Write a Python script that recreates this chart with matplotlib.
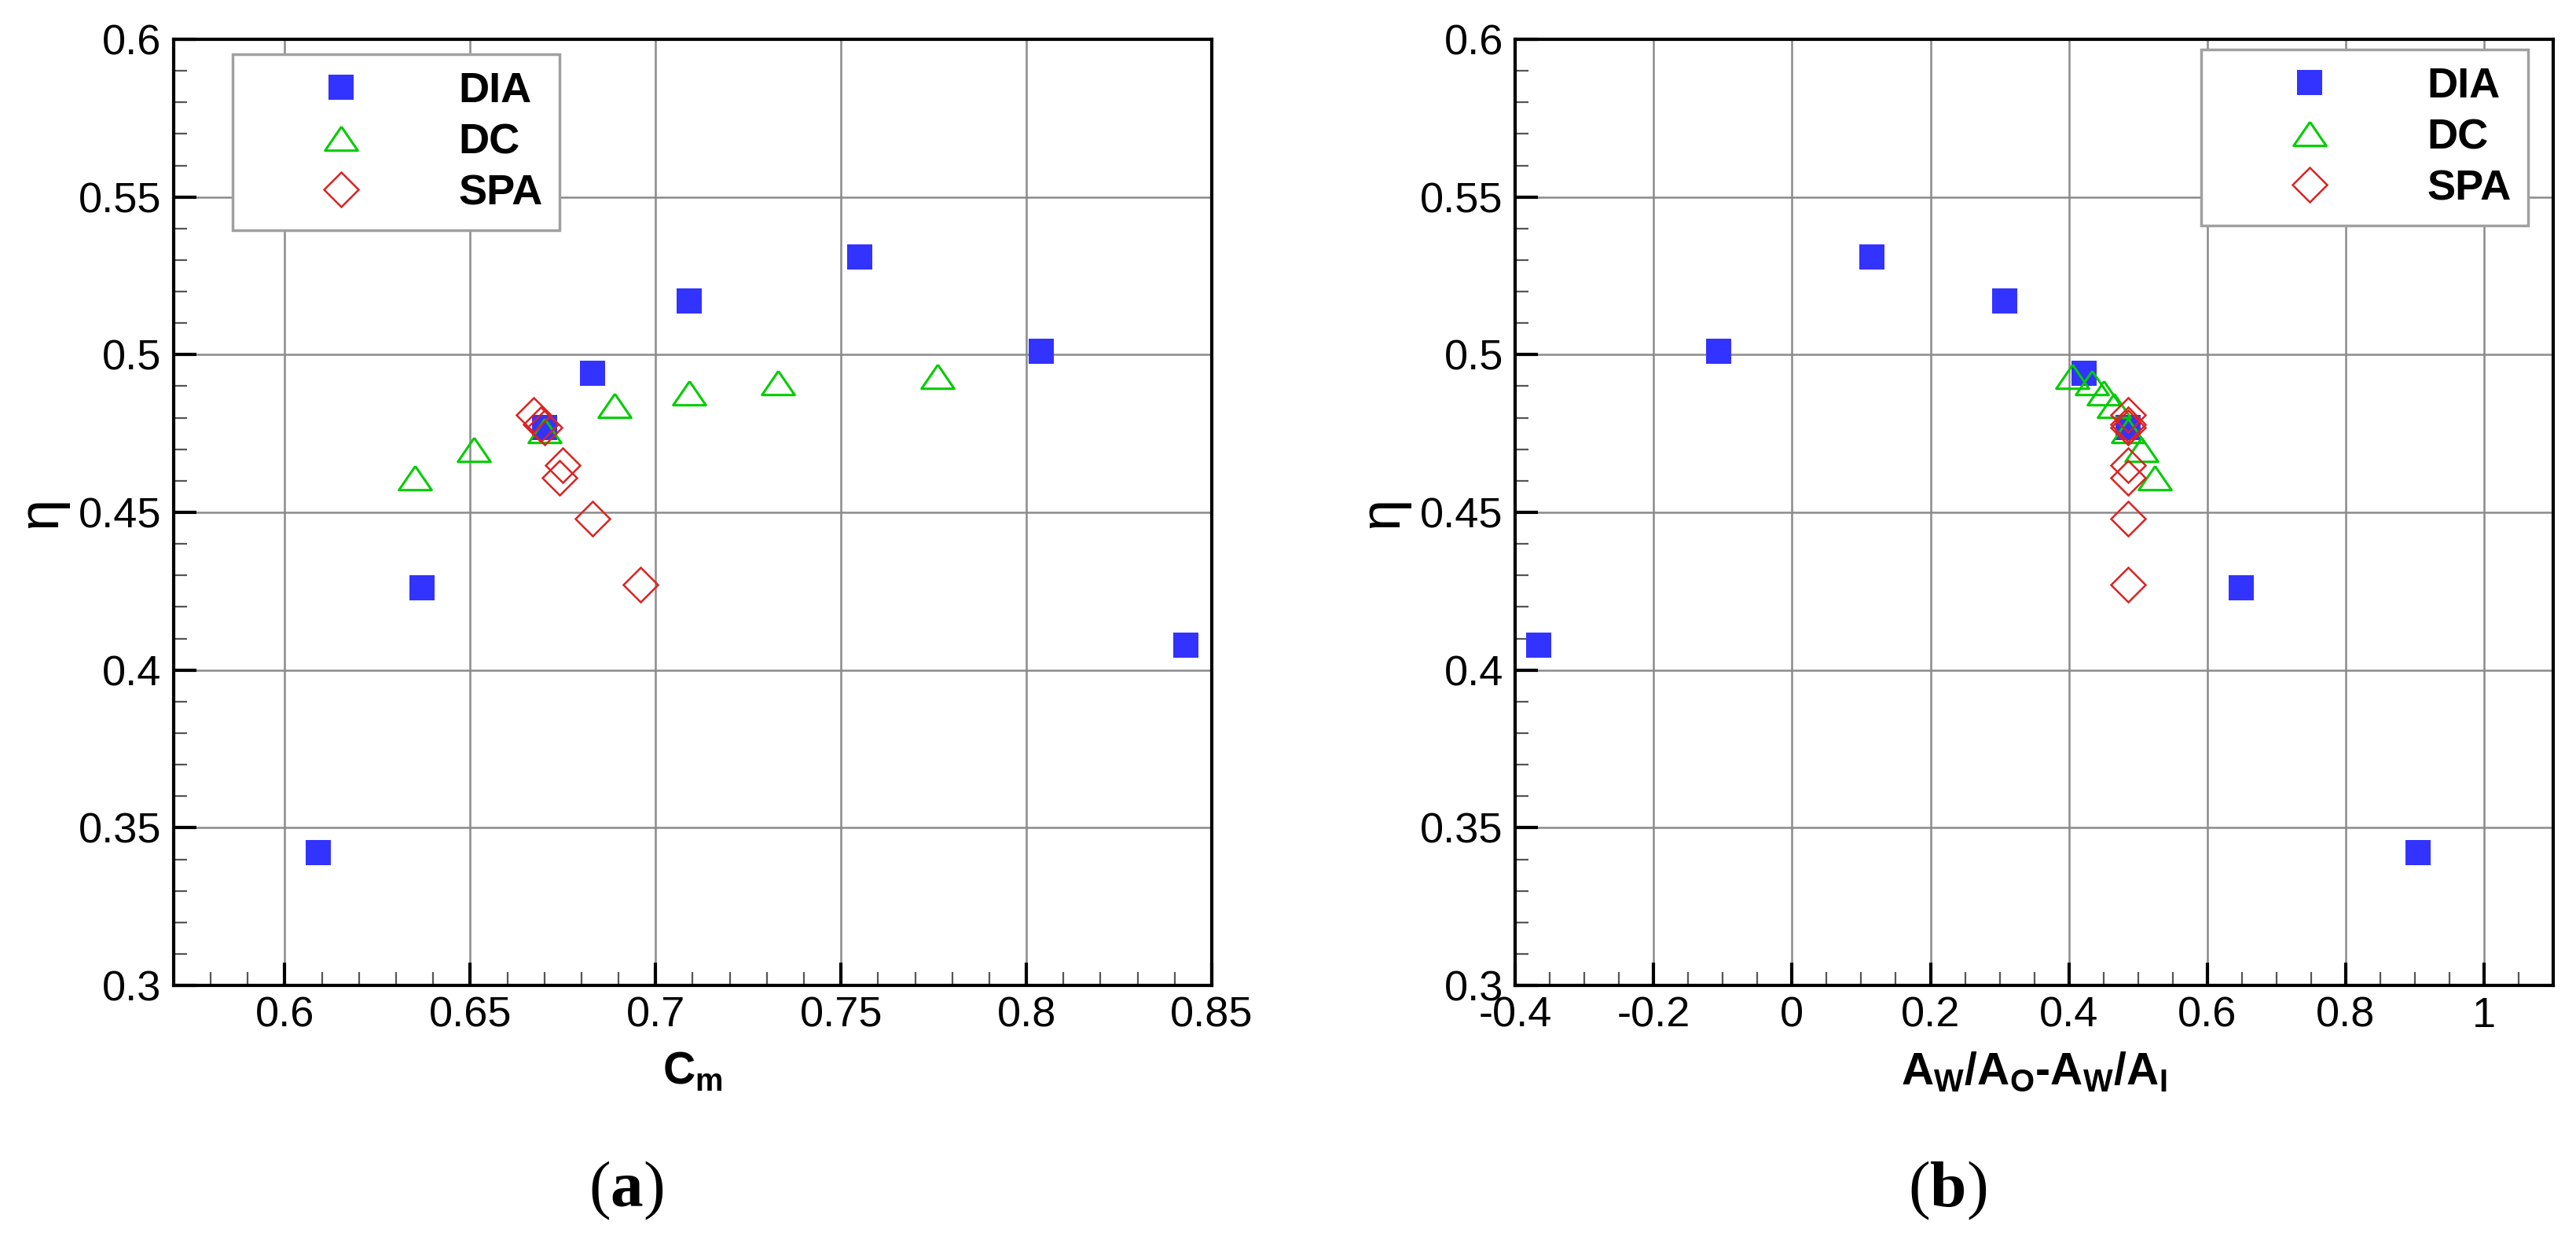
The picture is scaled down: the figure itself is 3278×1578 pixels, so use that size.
"""
plot.py
=======
Efficiency eta against C_m (a) and A_W/A_O - A_W/A_I (b) for the three
design families DIA / DC / SPA.  Writes out.png.
"""

import numpy as np
import matplotlib
matplotlib.use("Agg")             # headless
import matplotlib.pyplot as plt
from matplotlib.ticker import MultipleLocator, FuncFormatter

plt.rcParams["font.family"] = ["Liberation Sans", "DejaVu Sans"]
plt.rcParams["mathtext.fontset"] = "custom"
plt.rcParams["mathtext.sf"] = "Liberation Sans:bold"
plt.rcParams["mathtext.rm"] = "Liberation Sans"
plt.rcParams["mathtext.bf"] = "Liberation Serif:bold"


# ---------------------------------------------------------------------
# data
# ---------------------------------------------------------------------
cm_dia   = [0.609, 0.637, 0.683, 0.670, 0.709, 0.755, 0.804, 0.843]
area_dia = [0.905, 0.649, 0.422, 0.486, 0.307, 0.115, -0.106, -0.366]
eta_dia  = [0.342, 0.426, 0.494, 0.477, 0.517, 0.531, 0.501, 0.408]

cm_dc    = [0.635, 0.651, 0.670, 0.689, 0.709, 0.733, 0.776]
area_dc  = [0.524, 0.505, 0.486, 0.465, 0.450, 0.433, 0.405]
eta_dc   = [0.461, 0.470, 0.476, 0.484, 0.488, 0.491, 0.493]

cm_spa   = [0.667, 0.669, 0.670, 0.675, 0.674, 0.683, 0.696]
area_spa = [0.485, 0.486, 0.486, 0.485, 0.485, 0.486, 0.485]
eta_spa  = [0.481, 0.478, 0.477, 0.465, 0.461, 0.448, 0.427]

series_names = ["DIA", "DC", "SPA"]

BLUE  = "#3333ff"
GREEN = "#00cc00"
RED   = "#dd2222"

# flat-ish triangle like the Tecplot symbol
TRI = [(0, 0.73), (-1, -0.73), (1, -0.73), (0, 0.73)]

TICK_FS = 39


def fmt(v, _pos):
    return f"{v:g}"


def style_axes(ax, xlim, xmajor, xminor):
    ax.set_xlim(*xlim)
    ax.set_ylim(0.3, 0.6)
    ax.xaxis.set_major_locator(MultipleLocator(xmajor))
    ax.xaxis.set_minor_locator(MultipleLocator(xminor))
    ax.yaxis.set_major_locator(MultipleLocator(0.05))
    ax.yaxis.set_minor_locator(MultipleLocator(0.01))
    ax.xaxis.set_major_formatter(FuncFormatter(fmt))
    ax.yaxis.set_major_formatter(FuncFormatter(fmt))

    ax.set_axisbelow(True)
    ax.grid(True, which="major", color="#8a8a8a", linewidth=1.8)
    for s in ax.spines.values():
        s.set_linewidth(3)
        s.set_color("black")

    ax.tick_params(which="both", direction="in", top=False, right=False)
    ax.tick_params(which="major", length=21, width=3, labelsize=TICK_FS)
    ax.tick_params(axis="y", which="major", pad=11)
    ax.tick_params(axis="x", which="major", pad=10)
    ax.tick_params(which="minor", length=12, width=1.6, color="#555555")

    ax.set_ylabel("η", fontsize=52, labelpad=10)


def draw_series(ax, xs):
    ax.plot(xs[0], eta_dia, ls="none", marker="s", ms=22.5,
            mfc=BLUE, mec=BLUE, mew=0, label=series_names[0])
    ax.plot(xs[1], eta_dc, ls="none", marker=TRI, ms=30,
            mfc="none", mec=GREEN, mew=2.2, label=series_names[1])
    ax.plot(xs[2], eta_spa, ls="none", marker="D", ms=22,
            mfc="none", mec=RED, mew=1.8, label=series_names[2])


def add_legend(ax, x0, y1):
    leg = ax.legend(loc="upper left", bbox_to_anchor=(x0, y1),
                    borderaxespad=0, fancybox=False, framealpha=1,
                    edgecolor="#a0a0a0",
                    prop=dict(family="Liberation Sans", weight="bold",
                              size=TICK_FS),
                    handlelength=4.3, handletextpad=0.6,
                    borderpad=0.4, labelspacing=0.28)
    leg.get_frame().set_linewidth(2.5)


# ---------------------------------------------------------------------
# figure
# ---------------------------------------------------------------------
fig = plt.figure(figsize=(32.78, 15.78), dpi=100)
ax_a = fig.add_axes([0.0674, 0.2053, 0.4030, 0.7630])
ax_b = fig.add_axes([0.5882, 0.2053, 0.4030, 0.7630])

# (a) efficiency vs C_m
style_axes(ax_a, (0.57, 0.85), 0.05, 0.01)
draw_series(ax_a, [cm_dia, cm_dc, cm_spa])
ax_a.set_xlabel(r"$\mathsf{C_m}$", fontsize=41, labelpad=14)
add_legend(ax_a, 0.0568, 0.984)

# (b) efficiency vs area-ratio difference
style_axes(ax_b, (-0.4, 1.1), 0.2, 0.05)
draw_series(ax_b, [area_dia, area_dc, area_spa])
ax_b.set_xlabel(r"$\mathsf{A_W/A_O}$-$\mathsf{A_W/A_I}$", fontsize=41,
                fontweight="bold", labelpad=14)
add_legend(ax_b, 0.661, 0.989)

fig.text(0.2431, 0.040, r"($\mathbf{a}$)", family="Liberation Serif",
         fontsize=60, ha="center", va="center")
fig.text(0.7560, 0.040, r"($\mathbf{b}$)", family="Liberation Serif",
         fontsize=60, ha="center", va="center")

plt.savefig("out.png", dpi=100)
plt.close(fig)
